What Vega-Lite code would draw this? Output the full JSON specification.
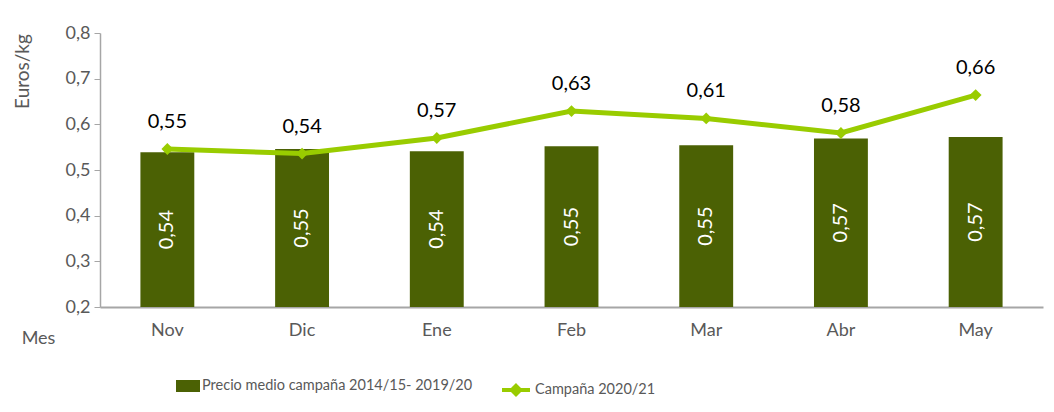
{
  "$schema": "https://vega.github.io/schema/vega-lite/v6.json",
  "width": 943,
  "height": 274,
  "autosize": {"type": "none"},
  "padding": {"left": 100, "top": 33, "right": 11, "bottom": 105},
  "config": {
    "locale": {"number": {"decimal": ",", "thousands": ".", "grouping": [3], "currency": ["", " €"]}},
    "font": "Lato",
    "view": {"stroke": null},
    "axis": {"grid": false, "domainColor": "#a6a6a6", "tickColor": "#a6a6a6", "labelColor": "#595959", "titleColor": "#595959", "labelFontSize": 18, "labelFont": "Lato", "titleFont": "Lato", "titleFontWeight": "normal", "titleFontSize": 18}
  },
  "data": {
    "values": [
      {"mes": "Nov", "precio_medio": 0.539, "campana": 0.546},
      {"mes": "Dic", "precio_medio": 0.546, "campana": 0.536},
      {"mes": "Ene", "precio_medio": 0.541, "campana": 0.570},
      {"mes": "Feb", "precio_medio": 0.552, "campana": 0.629},
      {"mes": "Mar", "precio_medio": 0.554, "campana": 0.613},
      {"mes": "Abr", "precio_medio": 0.569, "campana": 0.581},
      {"mes": "May", "precio_medio": 0.572, "campana": 0.664}
    ]
  },
  "encoding": {
    "x": {
      "field": "mes", "type": "nominal",
      "sort": ["Nov", "Dic", "Ene", "Feb", "Mar", "Abr", "May"],
      "scale": {"paddingInner": 0.6, "paddingOuter": 0.3},
      "axis": {"labelAngle": 0, "ticks": false, "labelPadding": 14, "domainWidth": 2, "title": "Mes", "titleX": -62, "titleY": 31, "titleAlign": "center", "titleBaseline": "middle", "titleFontSize": 18}
    }
  },
  "layer": [
    {
      "mark": {"type": "bar"},
      "encoding": {
        "y": {
          "field": "precio_medio", "type": "quantitative",
          "scale": {"domain": [0.2, 0.8], "zero": false, "nice": false},
          "axis": {"values": [0.2, 0.3, 0.4, 0.5, 0.6, 0.7, 0.8], "format": ".1f", "tickSize": 6, "labelPadding": 4, "domainWidth": 1.5, "title": "Euros/kg", "titleFontSize": 19, "titleAngle": -90, "titleX": -78, "titleY": 38, "titleAlign": "center", "titleBaseline": "middle"}
        },
        "y2": {"datum": 0.2},
        "fill": {
          "datum": "Precio medio campaña 2014/15- 2019/20",
          "scale": {"range": ["#4b6104"]},
          "legend": {
            "title": null, "orient": "none", "legendX": 76, "legendY": 341,
            "symbolType": "M-1,-0.5H1V0.5H-1Z", "symbolSize": 576, "symbolStrokeWidth": 0,
            "labelFontSize": 14.5, "labelColor": "#595959", "labelFont": "Lato", "labelOffset": 2, "labelLimit": 500
          }
        }
      }
    },
    {
      "transform": [{"calculate": "(datum.precio_medio + 0.2) / 2", "as": "mid"}],
      "mark": {"type": "text", "angle": 270, "color": "white", "fontSize": 20, "align": "center", "baseline": "middle"},
      "encoding": {
        "y": {"field": "mid", "type": "quantitative"},
        "text": {"field": "precio_medio", "type": "quantitative", "format": ".2f"}
      }
    },
    {
      "mark": {"type": "line", "strokeWidth": 5},
      "encoding": {
        "y": {"field": "campana", "type": "quantitative"},
        "stroke": {
          "datum": "Campaña 2020/21",
          "scale": {"range": ["#99cc00"]},
          "legend": {
            "title": null, "orient": "none", "legendX": 400, "legendY": 341,
            "symbolType": "M-1,0H1M0,-0.3L0.3,0L0,0.3L-0.3,0Z", "symbolSize": 784, "symbolStrokeWidth": 4,
            "symbolFillColor": "#99cc00",
            "labelFontSize": 14.5, "labelColor": "#595959", "labelFont": "Lato", "labelOffset": 3, "labelLimit": 500
          }
        }
      }
    },
    {
      "mark": {"type": "point", "shape": "diamond", "filled": true, "color": "#99cc00", "size": 140, "opacity": 1},
      "encoding": {
        "y": {"field": "campana", "type": "quantitative"}
      }
    },
    {
      "mark": {"type": "text", "fontSize": 20, "color": "#000000", "baseline": "middle", "dy": -27},
      "encoding": {
        "y": {"field": "campana", "type": "quantitative"},
        "text": {"field": "campana", "type": "quantitative", "format": ".2f"}
      }
    }
  ]
}
